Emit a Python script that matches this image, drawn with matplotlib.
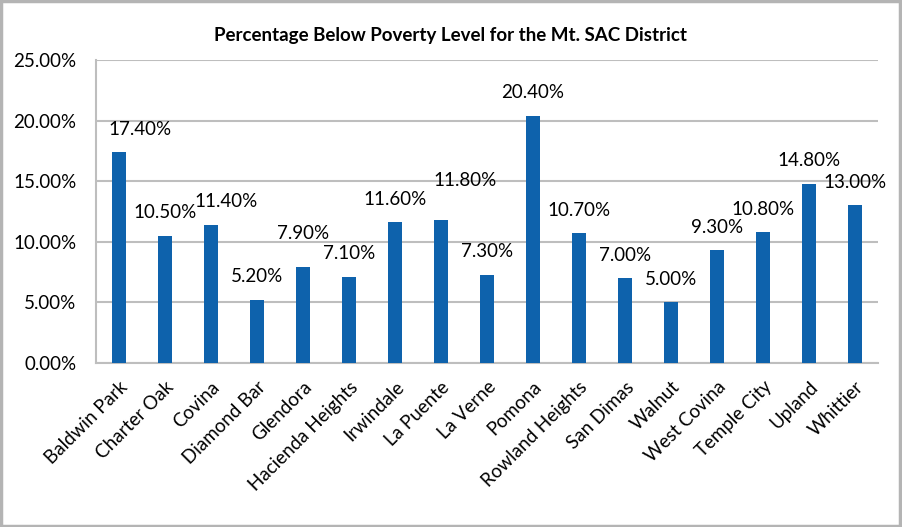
import matplotlib.pyplot as plt
from matplotlib.patches import Rectangle
from matplotlib.ticker import FuncFormatter

# Data
cities = ["Baldwin Park", "Charter Oak", "Covina", "Diamond Bar", "Glendora",
          "Hacienda Heights", "Irwindale", "La Puente", "La Verne", "Pomona",
          "Rowland Heights", "San Dimas", "Walnut", "West Covina", "Temple City",
          "Upland", "Whittier"]
poverty_pct = [17.4, 10.5, 11.4, 5.2, 7.9, 7.1, 11.6, 11.8, 7.3, 20.4,
               10.7, 7.0, 5.0, 9.3, 10.8, 14.8, 13.0]
y_ticks = [0, 5, 10, 15, 20, 25]

# Manual label nudges (pixels) like the hand-moved labels in the original
label_nudge = {0: (21, 0), 2: (15, 0), 4: (0, 11), 7: (24, 16)}

plt.rcParams['font.family'] = ['Lato', 'DejaVu Sans']

fig = plt.figure(figsize=(9.02, 5.27), dpi=100)
ax = fig.add_axes([96 / 902, 1 - 363 / 527, (878 - 96) / 902, (363 - 60) / 527])

bar_color = "#0E62AC"
grid_color = "#BEBEBE"

x = range(len(cities))
bars = ax.bar(x, poverty_pct, width=0.3, color=bar_color, zorder=3)

ax.set_xlim(-0.5, len(cities) - 0.5)
ax.set_ylim(0, 25)
ax.set_yticks(y_ticks)
ax.yaxis.set_major_formatter(FuncFormatter(lambda v, p: f"{v:.2f}%"))
ax.grid(axis="y", color=grid_color, linewidth=1.5, zorder=0)
ax.tick_params(axis="both", length=0, labelsize=13.5, colors="black")
ax.tick_params(axis="y", pad=14)
ax.tick_params(axis="x", pad=11)

ax.set_xticks(list(x))
ax.set_xticklabels(cities, rotation=45, ha="right", rotation_mode="anchor")

for side in ["top", "right"]:
    ax.spines[side].set_visible(False)
for side in ["left", "bottom"]:
    ax.spines[side].set_color(grid_color)
    ax.spines[side].set_linewidth(1.5)

for i, (b, v) in enumerate(zip(bars, poverty_pct)):
    dx, dy = label_nudge.get(i, (0, 0))
    ax.annotate(f"{v:.2f}%", (b.get_x() + b.get_width() / 2, v),
                xytext=(dx * 0.72, (23 + dy) * 0.72), textcoords="offset points",
                ha="center", va="center", fontsize=13.5)

fig.text(0.5, 1 - 35 / 527, "Percentage Below Poverty Level for the Mt. SAC District",
         ha="center", va="center", fontsize=13.5, fontweight="bold")

fig.patches.append(Rectangle((0.001, 0.002), 0.997, 0.996, transform=fig.transFigure,
                             fill=False, edgecolor="#B4B4B4", linewidth=2.5))

fig.savefig("out.png", dpi=100)
